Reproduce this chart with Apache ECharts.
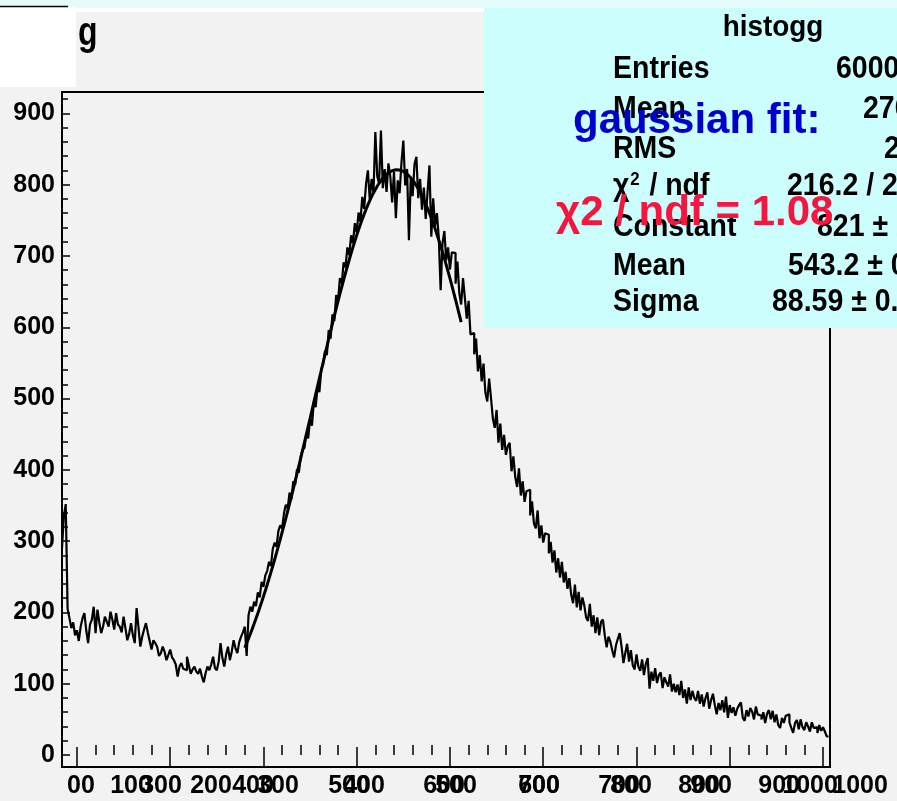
<!DOCTYPE html>
<html>
<head>
<meta charset="utf-8">
<title>histogg</title>
<script src="https://cdn.jsdelivr.net/npm/echarts@6/dist/echarts.min.js"></script>
<style>
  html, body { margin: 0; padding: 0; background: #f2f2f2; }
  #chart { width: 897px; height: 801px; }
</style>
</head>
<body>
<div id="chart"></div>
<script>
// Histogram "histogg": bin contents, first bin edge and bin width
const binStart = 184;
const binWidth = 2;
const counts = [
  290, 335, 352, 205, 192, 178, 186, 168, 175, 160,
  180, 192, 199, 175, 157, 183, 190, 208, 171, 204,
  186, 171, 180, 194, 187, 180, 201, 190, 176, 199,
  183, 180, 172, 194, 178, 161, 170, 185, 168, 157,
  206, 179, 152, 166, 176, 185, 172, 160, 148, 161,
  157, 152, 139, 143, 152, 145, 133, 140, 148, 137,
  133, 127, 110, 124, 129, 121, 119, 138, 126, 114,
  120, 124, 117, 114, 121, 110, 102, 115, 124, 119,
  127, 138, 122, 119, 131, 157, 136, 124, 141, 152,
  133, 145, 161, 150, 143, 158, 166, 172, 180, 139,
  196, 208, 201, 215, 209, 228, 221, 243, 236, 252,
  258, 271, 265, 289, 298, 292, 314, 322, 318, 339,
  351, 346, 368, 359, 384, 379, 401, 396, 419, 428,
  431, 452, 444, 471, 462, 495, 488, 516, 509, 541,
  548, 567, 561, 596, 584, 618, 609, 645, 637, 669,
  662, 691, 684, 712, 701, 729, 718, 746, 733, 761,
  748, 783, 766, 801, 820, 779, 808, 789, 874, 812,
  802, 876, 795, 822, 790, 830, 812, 775, 818, 753,
  806, 788, 831, 862, 799, 822, 722, 810, 784, 829,
  839, 781, 808, 765, 796, 752, 790, 827, 727, 781,
  742, 760, 726, 652, 718, 735, 694, 712, 681, 705,
  704, 661, 692, 648, 632, 669, 641, 612, 637, 590,
  592, 562, 584, 538, 561, 524, 549, 508, 496, 528,
  501, 472, 459, 484, 438, 465, 428, 449, 421, 433,
  438, 398, 419, 390, 376, 402, 364, 384, 355, 370,
  372, 336, 356, 325, 318, 343, 304, 322, 298, 311,
  309, 283, 299, 270, 287, 256, 276, 249, 271, 242,
  257, 233, 248, 225, 213, 239, 207, 229, 203, 221,
  210, 193, 188, 212, 180, 196, 171, 193, 168, 187,
  190, 168, 151, 166, 159, 147, 137, 154, 163, 171,
  152, 129, 143, 156, 131, 147, 126, 120, 141, 124,
  118, 134, 112, 128, 136, 93, 117, 104, 122, 101,
  112, 116, 94, 109, 102, 96, 113, 89, 100, 88,
  99, 84, 104, 80, 92, 72, 95, 77, 90, 80,
  76, 90, 72, 85, 68, 80, 88, 65, 77, 86,
  70, 57, 73, 63, 77, 60, 82, 52, 70, 59,
  67, 55, 65, 70, 74, 52, 48, 63, 54, 66,
  61, 50, 68, 57, 55, 50, 60, 45, 58, 63,
  50, 62, 46, 57, 42, 38, 52, 45, 55, 57,
  46, 38, 31, 45, 49, 36, 50, 39, 35, 46,
  40, 33, 46, 38, 39, 31, 42, 34, 39, 33,
  26
];

// Gaussian fit parameters and range
const fitConstant = 821;
const fitMean = 543.2;
const fitSigma = 88.59;
const fitRange = [380, 612];

// Axis ranges
const xRange = [184, 1007.5];
const yRange = [-16.8, 930];

// Tick positions
const xMajorTicks = [200, 300, 400, 500, 600, 700, 800, 900, 1000];
const yMajorTicks = [0, 100, 200, 300, 400, 500, 600, 700, 800, 900];
const yTickLabels = ['0', '100', '200', '300', '400', '500', '600', '700', '800', '900'];

// The two overlapping rows of x-axis labels
const xLabelsA = ['00', '100', '200', '300', '400', '500', '600', '700', '800', '900', '1000'];
const xLabelAtA = [204.4, 258.0, 343.8, 415.6, 507.9, 606.5, 695.5, 781.3, 867.1, 952.9, 1039.8];
const xLabelsB = ['300', '400', '500', '600', '700', '800', '900', '1000'];
const xLabelAtB = [290.2, 388.8, 491.8, 593.6, 695.5, 794.2, 880.0, 986.1];

// Statistics box rows
const statNames = ['Entries', 'Mean', 'RMS', '{n|χ}{s|2}{n| / ndf}', 'Constant', 'Mean', 'Sigma'];
const statValues = ['60000', '276.4', '229.8', '216.2 / 200', '821 ± 2.9', '543.2 ± 0.9', '88.59 ± 0.64'];

// ---- derived ----
const minorOf = (majors, lo, hi, step) => {
  const out = [];
  for (let v = Math.ceil(lo / step) * step; v < hi; v += step) {
    if (majors.indexOf(v) < 0) out.push(v);
  }
  return out;
};
const xMinorTicks = minorOf(xMajorTicks, xRange[0], xRange[1], 20);
const yMinorTicks = minorOf(yMajorTicks, yRange[0], yRange[1], 20);

const histPoints = counts.map((c, i) => [binStart + i * binWidth, c]);
histPoints.push([binStart + counts.length * binWidth, counts[counts.length - 1]]);

const fitPoints = [];
for (let v = fitRange[0]; v <= fitRange[1]; v += 2) {
  const t = (v - fitMean) / fitSigma;
  fitPoints.push([v, fitConstant * Math.exp(-0.5 * t * t)]);
}

const pick = (labels, at) => (value) => {
  let best = 0;
  for (let i = 1; i < at.length; i++) {
    if (Math.abs(at[i] - value) < Math.abs(at[best] - value)) best = i;
  }
  return labels[best];
};

const SANS = "'Liberation Sans', Arial, Helvetica, sans-serif";

const axisLabelStyle = {
  color: '#000', fontSize: 25, fontWeight: 'bold', fontFamily: SANS
};

// plot frame (px)
const frame = { left: 62, right: 67, top: 92, bottom: 34 };
const pxPerUnit = (897 - frame.left - frame.right) / (xRange[1] - xRange[0]);
const labelAxisMax = xRange[0] + (897 - frame.left) / pxPerUnit;

function txt(text, x, y, size, color, opts) {
  opts = opts || {};
  const style = {
    text: text, x: 0, y: 0, fill: color,
    fontSize: size, fontWeight: 'bold', fontFamily: SANS,
    textAlign: opts.align || 'left', align: opts.align || 'left',
    textVerticalAlign: 'middle', verticalAlign: 'middle'
  };
  if (opts.rich) style.rich = opts.rich;
  return {
    type: 'text', x: x, y: y, z: opts.z || 110,
    scaleX: opts.scaleX || 1, scaleY: opts.scaleY || 1,
    style: style
  };
}

const statRich = {
  n: { fontSize: 32, fontWeight: 'bold', fontFamily: SANS, fill: '#000', color: '#000' },
  s: { fontSize: 19, fontWeight: 'bold', fontFamily: SANS, fill: '#000', color: '#000',
       verticalAlign: 'top', padding: [0, 2, 0, 1] }
};

const statRowsY = [69, 109, 149, 186, 227, 266, 302];
const statValueX = [836, 863, 884, 787, 817, 788, 772];
const statText = [];
statNames.forEach((n, i) => {
  statText.push(txt(n, 613, statRowsY[i], 32, '#000', { scaleX: 0.89, rich: statRich }));
  statText.push(txt(statValues[i], statValueX[i], statRowsY[i], 32, '#000', { scaleX: 0.89 }));
});

const chart = echarts.init(document.getElementById('chart'), null, { renderer: 'canvas' });

chart.setOption({
  backgroundColor: '#f2f2f2',
  animation: false,
  grid: [
    { left: frame.left, right: frame.right, top: frame.top, bottom: frame.bottom,
      show: true, borderColor: '#000', borderWidth: 2, backgroundColor: 'transparent',
      containLabel: false, outerBoundsMode: 'none' },
    { left: frame.left, right: 0, top: frame.top, bottom: frame.bottom,
      show: false, containLabel: false, outerBoundsMode: 'none' }
  ],
  xAxis: [
    { gridIndex: 0, type: 'value', position: 'bottom', min: xRange[0], max: xRange[1],
      axisLine: { show: true, onZero: false, lineStyle: { color: '#000', width: 2 } },
      axisTick: { show: true, inside: true, length: 20, customValues: xMajorTicks,
                  lineStyle: { color: '#000', width: 1.5 } },
      axisLabel: { show: false }, splitLine: { show: false } },
    { gridIndex: 0, type: 'value', position: 'bottom', min: xRange[0], max: xRange[1],
      axisLine: { show: false },
      axisTick: { show: true, inside: true, length: 10, customValues: xMinorTicks,
                  lineStyle: { color: '#000', width: 1.5 } },
      axisLabel: { show: false }, splitLine: { show: false } },
    { gridIndex: 1, type: 'value', position: 'bottom', min: xRange[0], max: labelAxisMax,
      axisLine: { show: false }, axisTick: { show: false }, splitLine: { show: false },
      axisLabel: Object.assign({ show: true, margin: 7, customValues: xLabelAtA,
                  showMinLabel: true, showMaxLabel: true,
                  formatter: pick(xLabelsA, xLabelAtA) }, axisLabelStyle) },
    { gridIndex: 1, type: 'value', position: 'bottom', min: xRange[0], max: labelAxisMax,
      axisLine: { show: false }, axisTick: { show: false }, splitLine: { show: false },
      axisLabel: Object.assign({ show: true, margin: 7, customValues: xLabelAtB,
                  showMinLabel: true, showMaxLabel: true,
                  formatter: pick(xLabelsB, xLabelAtB) }, axisLabelStyle) }
  ],
  yAxis: [
    { gridIndex: 0, type: 'value', position: 'left', min: yRange[0], max: yRange[1],
      axisLine: { show: true, onZero: false, lineStyle: { color: '#000', width: 2 } },
      axisTick: { show: true, inside: true, length: 8, customValues: yMajorTicks,
                  lineStyle: { color: '#000', width: 1.5 } },
      axisLabel: Object.assign({ show: true, margin: 7, customValues: yMajorTicks,
                  showMinLabel: true, showMaxLabel: true,
                  formatter: pick(yTickLabels, yMajorTicks) }, axisLabelStyle),
      splitLine: { show: false } },
    { gridIndex: 0, type: 'value', position: 'left', min: yRange[0], max: yRange[1],
      axisLine: { show: false },
      axisTick: { show: true, inside: true, length: 6, customValues: yMinorTicks,
                  lineStyle: { color: '#000', width: 1.5 } },
      axisLabel: { show: false }, splitLine: { show: false } },
    { gridIndex: 1, type: 'value', show: false, min: 0, max: 1 }
  ],
  series: [
    { name: 'histogg', type: 'line', xAxisIndex: 0, yAxisIndex: 0,
      data: histPoints, step: 'end', showSymbol: false, symbol: 'none',
      lineStyle: { color: '#000', width: 2.2 }, z: 3, silent: true },
    { name: 'gaus', type: 'line', xAxisIndex: 0, yAxisIndex: 0,
      data: fitPoints, showSymbol: false, symbol: 'none', smooth: false,
      lineStyle: { color: '#000', width: 3 }, z: 4, silent: true }
  ],
  graphic: [
    { type: 'rect', z: 100, shape: { x: 0, y: 0, width: 897, height: 8 }, style: { fill: '#e6fcfc' } },
    { type: 'rect', z: 100, shape: { x: 0, y: 7, width: 76, height: 80 }, style: { fill: '#ffffff' } },
    { type: 'rect', z: 100, shape: { x: 76, y: 8, width: 408, height: 4 }, style: { fill: '#ffffff' } },
    { type: 'line', z: 101, shape: { x1: 0, y1: 6.5, x2: 68, y2: 6.5 }, style: { stroke: '#000', lineWidth: 1.5 } },
    txt('g', 78, 34, 40, '#000', { scaleX: 0.8 }),
    // statistics box
    { type: 'rect', z: 105, shape: { x: 484, y: 8, width: 413, height: 320 }, style: { fill: '#ccfefe' } },
    txt('histogg', 773, 28, 30, '#000', { scaleX: 0.93, align: 'center' })
  ].concat(statText).concat([
    txt('gaussian fit:', 573, 121, 42, '#0000cc', { z: 120 }),
    txt('χ2 / ndf = 1.08', 556, 213, 42, '#f5153f', { z: 120 })
  ])
});
</script>
</body>
</html>
